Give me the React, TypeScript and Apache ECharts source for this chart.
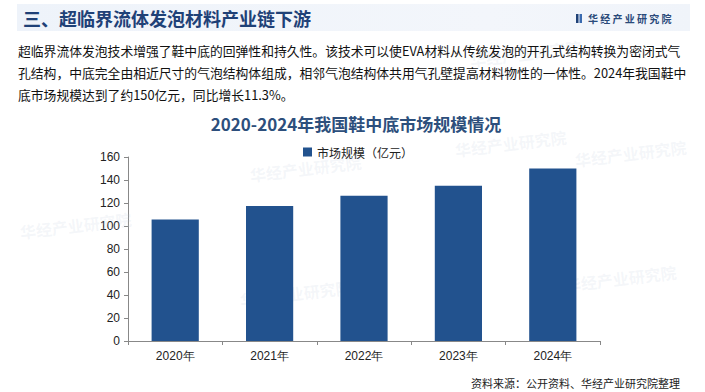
import React, { useEffect, useRef } from "react";
import * as echarts from "echarts";

const categories = ["2020年", "2021年", "2022年", "2023年", "2024年"];
const marketSize = [105.6, 117.3, 126.2, 134.9, 150.1];
const seriesName = "市场规模（亿元）";
const chartTitle = "2020-2024年我国鞋中底市场规模情况";
const headerTitle = "三、超临界流体发泡材料产业链下游";
const brand = "华 经 产 业 研 究 院";
const paragraph = [
  "超临界流体发泡技术增强了鞋中底的回弹性和持久性。该技术可以使EVA材料从传统发泡的开孔式结构转换为密闭式气",
  "孔结构，中底完全由相近尺寸的气泡结构体组成，相邻气泡结构体共用气孔壁提高材料物性的一体性。2024年我国鞋中",
  "底市场规模达到了约150亿元，同比增长11.3%。",
];
const sourceText = "资料来源：公开资料、华经产业研究院整理";
const watermarks = [
  { x: 250, y: 175 },
  { x: 455, y: 150 },
  { x: 240, y: 300 },
  { x: 20, y: 232 },
  { x: 575, y: 160 },
  { x: 565, y: 285 },
  { x: 470, y: 60 },
];

const CJK = '"Noto Sans CJK SC", "Noto Sans", sans-serif';

export default function App() {
  const ref = useRef<HTMLDivElement>(null);
  useEffect(() => {
    if (!ref.current) return;
    const chart = echarts.init(ref.current, null, { renderer: "svg" });
    const graphics: any[] = [
      {
        type: "rect",
        shape: { x: 17, y: 4, width: 673, height: 27 },
        style: {
          fill: new echarts.graphic.LinearGradient(0, 0, 1, 0, [
            { offset: 0, color: "#eef3fa" },
            { offset: 0.7, color: "#f3f6fb" },
            { offset: 1, color: "#f0f4fa" },
          ]),
        },
        z: 0,
      },
      {
        type: "text",
        x: 23,
        y: 18,
        style: {
          text: headerTitle,
          font: `bold 18px ${CJK}`,
          fill: "#1f4177",
          textVerticalAlign: "middle",
        },
        z: 2,
      },
      {
        type: "rect",
        shape: { x: 576, y: 14, width: 2.5, height: 9 },
        style: { fill: "#1f4177" },
        z: 2,
      },
      {
        type: "rect",
        shape: { x: 579.5, y: 14, width: 2.5, height: 9 },
        style: { fill: "#3a6bb0" },
        z: 2,
      },
      {
        type: "text",
        x: 588,
        y: 18,
        style: {
          text: brand,
          font: `bold 10px ${CJK}`,
          fill: "#2a4a7a",
          textVerticalAlign: "middle",
        },
        z: 2,
      },
      ...paragraph.map((line, i) => ({
        type: "text",
        x: 18,
        y: 50 + i * 22,
        style: {
          text: line,
          font: `12.8px ${CJK}`,
          fill: "#111",
          textVerticalAlign: "middle",
        },
        z: 2,
      })),
      {
        type: "text",
        x: 680,
        y: 383,
        style: {
          text: sourceText,
          font: `11px ${CJK}`,
          fill: "#222",
          textAlign: "right",
          textVerticalAlign: "middle",
        },
        z: 2,
      },
      ...watermarks.map((w) => ({
        type: "text",
        x: w.x,
        y: w.y,
        rotation: 0.12,
        style: {
          text: "华经产业研究院",
          font: `bold 16px ${CJK}`,
          fill: "rgba(190,200,220,0.16)",
          textVerticalAlign: "middle",
        },
        z: 1,
      })),
    ];

    chart.setOption({
      animation: false,
      backgroundColor: "#ffffff",
      title: {
        text: chartTitle,
        left: 351,
        textAlign: "center",
        top: 110,
        textStyle: {
          fontFamily: CJK,
          fontSize: 17,
          fontWeight: "bold",
          color: "#2d4f7c",
        },
      },
      legend: {
        data: [seriesName],
        left: 298,
        top: 141,
        itemWidth: 9,
        itemHeight: 9,
        itemGap: 4,
        icon: "rect",
        textStyle: { fontFamily: CJK, fontSize: 12, color: "#222" },
        align: "left",
      },
      grid: { left: 128, right: 105, top: 157, bottom: 51, containLabel: false },
      xAxis: {
        type: "category",
        data: categories,
        axisLine: { lineStyle: { color: "#888", width: 1 } },
        axisTick: { show: true, alignWithLabel: false, length: 4, lineStyle: { color: "#888" } },
        axisLabel: {
          fontFamily: '"Liberation Sans", Arial, sans-serif',
          fontSize: 12,
          color: "#222",
          margin: 9,
        },
      },
      yAxis: {
        type: "value",
        min: 0,
        max: 160,
        interval: 20,
        axisLine: { show: true, lineStyle: { color: "#888", width: 1 } },
        axisTick: { show: true, length: 4, lineStyle: { color: "#888" } },
        splitLine: { show: false },
        axisLabel: {
          fontFamily: '"Liberation Sans", Arial, sans-serif',
          fontSize: 12,
          color: "#222",
          margin: 8,
        },
      },
      series: [
        {
          name: seriesName,
          type: "bar",
          data: marketSize,
          barWidth: "50%",
          itemStyle: { color: "#22528e" },
          z: 3,
        },
      ],
      graphic: graphics,
    });
    return () => chart.dispose();
  }, []);
  return (
    <div
      ref={ref}
      style={{ position: "absolute", left: 0, top: 0, width: 705, height: 392 }}
    />
  );
}
